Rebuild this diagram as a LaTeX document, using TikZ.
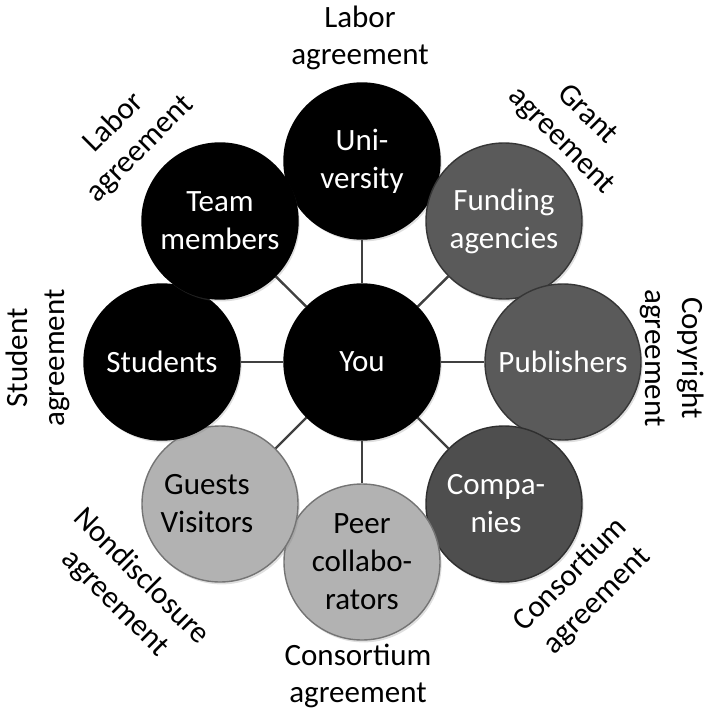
\documentclass[tikz,border=0pt]{standalone}
\usepackage{fontspec}
\setmainfont{Carlito}
\usetikzlibrary{shadows}

\definecolor{darkdisc}{HTML}{5A5A5A}
\definecolor{deepdisc}{HTML}{4E4E4E}
\definecolor{lightdisc}{HTML}{B2B2B2}

\begin{document}
\begin{tikzpicture}[x=0.5pt, y=-0.5pt,
    disc/.style={circle, minimum size=78pt, inner sep=0pt, align=center, font=\fontsize{15.5}{19}\selectfont, line width=0.7pt, drop shadow={opacity=0.25, shadow xshift=0.8pt, shadow yshift=-1.2pt}},
    black disc/.style={disc, fill=black, draw=black, text=white},
    dark disc/.style={disc, fill=darkdisc, draw=darkdisc!60!black, text=white},
    deep disc/.style={disc, fill=deepdisc, draw=deepdisc!60!black, text=white},
    light disc/.style={disc, fill=lightdisc, draw=lightdisc!65!black, text=black},
    link/.style={line width=1.2pt, draw=black!75},
    deal/.style={align=center, font=\fontsize{15.5}{18.5}\selectfont}
]
\useasboundingbox (0,0) rectangle (718,724);

% Centre and the ring of partners
\node[black disc] (you) at (362,362) {You};
\node[black disc] (uni) at (362,161) {Uni-\\versity};
\node[dark disc] (fund) at (504,221) {Funding\\agencies};
\node[dark disc] (pub) at (563,362) {Publishers};
\node[deep disc] (comp) at (504,504) {Compa-\hspace*{8pt}\\nies\hspace*{8pt}};
\node[light disc] (peer) at (362,562) {Peer\\collabo-\\rators};
\node[light disc] (guest) at (220,504) {Guests\hspace*{13pt}\\Visitors\hspace*{13pt}};
\node[black disc] (stud) at (162,362) {Students};
\node[black disc] (team) at (220,221) {Team\\members};

% Links from you
\draw[link] (you) -- (uni);
\draw[link] (you) -- (fund);
\draw[link] (you) -- (pub);
\draw[link] (you) -- (comp);
\draw[link] (you) -- (peer);
\draw[link] (you) -- (guest);
\draw[link] (you) -- (stud);
\draw[link] (you) -- (team);

% Agreements round the ring
\node[deal] (uniDeal) at (360,38) {Labor\\agreement};
\node[deal, rotate=-45] (fundDeal) at (574,128) {Grant\\agreement};
\node[deal, rotate=-90] (pubDeal) at (672,358) {Copyright\\agreement};
\node[deal, rotate=45] (compDeal) at (584,588) {Consortium\\agreement};
\node[deal] (peerDeal) at (358,676) {Consortium\\agreement};
\node[deal, rotate=-45] (guestDeal) at (128,590) {Nondisclosure\\agreement};
\node[deal, rotate=90] (studDeal) at (38,358) {Student\\agreement};
\node[deal, rotate=45] (teamDeal) at (127,136) {Labor\\agreement};
\end{tikzpicture}
\end{document}
